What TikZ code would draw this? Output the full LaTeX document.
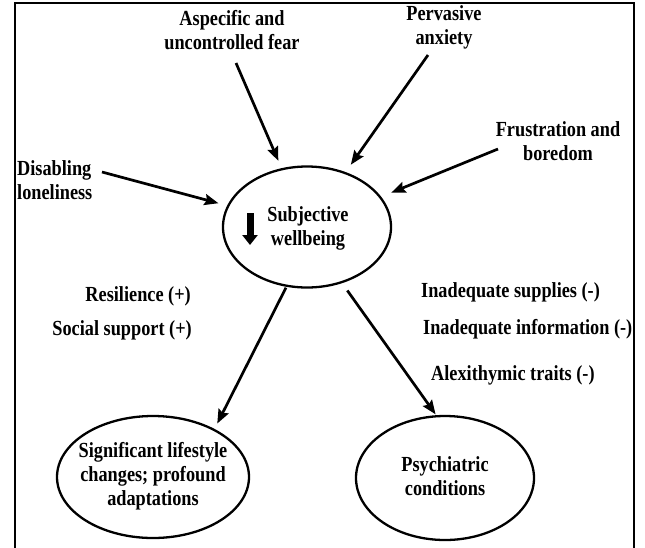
\documentclass[tikz,border=0pt]{standalone}
\usepackage{fontspec}
\setmainfont{Liberation Serif}[FakeStretch=0.85]
\usetikzlibrary{arrows.meta,shapes.geometric}
\begin{document}
\begin{tikzpicture}[x=1pt,y=-1pt,
  lbl/.style={font=\fontsize{21.5}{24}\selectfont\bfseries, align=center, inner sep=0pt},
  ell/.style={draw, ellipse, line width=2.3pt, inner sep=0pt},
  arr/.style={line width=2.7pt, -{Stealth[length=14pt,width=11pt,inset=2pt]}}
]
\useasboundingbox (0,0) rectangle (645,547);
\draw[line width=2pt] (15,548) -- (15,3) -- (634,3) -- (634,548);

% text labels
\node[lbl] (t1) at (232,30) {Aspecific and\\uncontrolled fear};
\node[lbl] (t2) at (444,27) {Pervasive\\anxiety};
\node[lbl] (t3) at (558,141) {Frustration and\\boredom};
\node[lbl, align=left, anchor=west] (t4) at (17,180) {Disabling\\loneliness};
\node[lbl, anchor=east] (r1) at (191,296) {Resilience (+)};
\node[lbl, anchor=east] (r2) at (192,330) {Social support (+)};
\node[lbl, anchor=west] (n1) at (421,292) {Inadequate supplies (-)};
\node[lbl, anchor=west] (n2) at (423,329) {Inadequate information (-)};
\node[lbl, anchor=west] (n3) at (431,375) {Alexithymic traits (-)};

% ellipses
\node[ell, minimum width=168pt, minimum height=121pt] (E0) at (307,227) {};
\node[lbl] (sw) at (308,228) {Subjective\\wellbeing};
\draw[line width=7pt, -{Triangle[length=10pt,width=15pt]}] (250,213) -- (250,245);

\node[ell, minimum width=192pt, minimum height=122pt] (E1) at (153,477) {};
\node[lbl] (slc) at (153,476) {Significant lifestyle\\changes; profound\\adaptations};
\node[ell, minimum width=178pt, minimum height=124pt] (E2) at (445,478) {};
\node[lbl] (pc) at (445,476) {Psychiatric\\conditions};

% arrows
\coordinate (a1s) at (236,63);
\coordinate (a2s) at (428,55);
\coordinate (a3s) at (498,149);
\coordinate (a4s) at (102,172);
\draw[arr, shorten >=8pt] (a1s) -- (E0);
\draw[arr, shorten >=9pt] (a2s) -- (E0);
\draw[arr, shorten >=11pt] (a3s) -- (E0);
\draw[arr, shorten >=9pt] (a4s) -- (E0);
\draw[arr, shorten <=1pt, shorten >=6pt] (E0.-109) -- (E1.38);
\draw[arr, shorten <=9pt, shorten >=1pt] (E0.-58) -- (E2.98);
\end{tikzpicture}
\end{document}
